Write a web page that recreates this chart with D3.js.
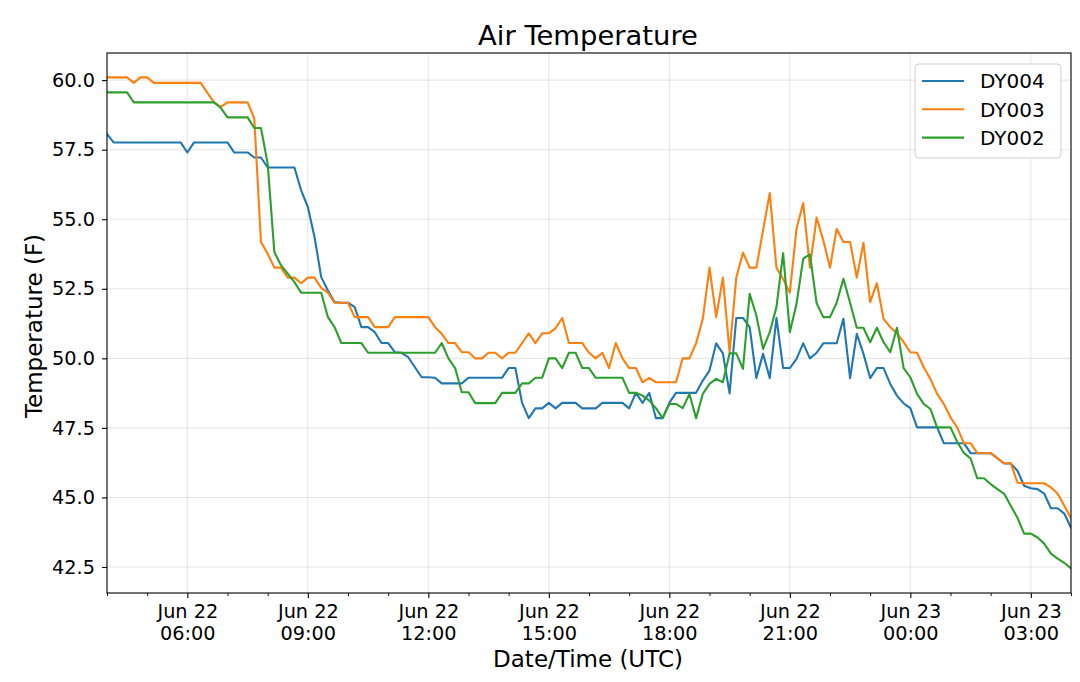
<!DOCTYPE html>
<html><head><meta charset="utf-8">
<script src="https://cdn.jsdelivr.net/npm/d3@7/dist/d3.min.js"></script>
<style>
html,body{margin:0;padding:0;background:#fff;}
text{font-family:"DejaVu Sans",sans-serif;fill:#000;}
</style></head>
<body><svg id="c" width="1080" height="682"></svg>
<script>
// 10-minute readings from 2019-06-22 04:00 UTC to 2019-06-23 04:00 UTC
const startTime = "2019-06-22T04:00:00Z";
const stepMinutes = 10;
const seriesNames = ["DY004", "DY003", "DY002"];
const seriesColors = ["#1f77b4", "#ff7f0e", "#2ca02c"];
const dy004 = [
58.06,57.76,57.76,57.76,57.76,57.76,57.76,57.76,57.76,57.76,
57.76,57.76,57.40,57.76,57.76,57.76,57.76,57.76,57.76,57.40,
57.40,57.40,57.22,57.22,56.86,56.86,56.86,56.86,56.86,56.04,
55.44,54.36,52.92,52.44,52.02,52.00,52.00,51.84,51.12,51.12,
50.94,50.55,50.55,50.22,50.20,50.04,49.68,49.32,49.32,49.30,
49.10,49.10,49.10,49.10,49.30,49.30,49.30,49.30,49.30,49.30,
49.65,49.65,48.40,47.85,48.20,48.20,48.40,48.20,48.40,48.40,
48.40,48.20,48.20,48.20,48.40,48.40,48.40,48.40,48.20,48.76,
48.40,48.76,47.85,47.85,48.40,48.76,48.76,48.76,48.76,49.20,
49.56,50.54,50.18,48.74,51.45,51.45,51.12,49.29,50.16,49.29,
51.45,49.65,49.65,49.98,50.54,50.00,50.20,50.54,50.54,50.54,
51.42,49.29,50.88,50.16,49.29,49.65,49.65,49.08,48.66,48.38,
48.21,47.52,47.52,47.52,47.52,46.95,46.95,46.95,46.95,46.59,
46.59,46.59,46.59,46.41,46.22,46.22,45.96,45.42,45.33,45.30,
45.14,44.61,44.61,44.42,43.91];
const dy003 = [
60.10,60.10,60.10,60.10,59.90,60.10,60.10,59.90,59.90,59.90,
59.90,59.90,59.90,59.90,59.90,59.54,59.20,59.04,59.20,59.20,
59.20,59.20,58.62,54.18,53.76,53.26,53.26,52.90,52.90,52.70,
52.90,52.90,52.53,52.36,52.00,52.00,52.00,51.48,51.48,51.48,
51.12,51.12,51.12,51.48,51.48,51.48,51.48,51.48,51.48,51.12,
50.88,50.55,50.55,50.22,50.22,50.00,50.00,50.20,50.20,50.00,
50.20,50.20,50.55,50.90,50.55,50.90,50.90,51.08,51.45,50.55,
50.55,50.55,50.20,50.00,50.20,49.65,50.55,50.00,49.65,49.65,
49.14,49.30,49.14,49.14,49.14,49.14,50.00,50.00,50.54,51.42,
53.26,51.48,52.90,50.22,52.90,53.80,53.26,53.26,54.60,55.94,
53.26,52.85,52.36,54.66,55.58,53.26,55.06,54.24,53.26,54.66,
54.18,54.18,52.90,54.15,52.02,52.70,51.42,51.12,50.90,50.58,
50.22,50.20,49.68,49.26,48.72,48.36,47.88,47.52,46.95,46.95,
46.59,46.59,46.59,46.41,46.23,46.23,45.53,45.51,45.51,45.51,
45.51,45.36,45.14,44.70,44.25];
const dy002 = [
59.56,59.56,59.56,59.56,59.20,59.20,59.20,59.20,59.20,59.20,
59.20,59.20,59.20,59.20,59.20,59.20,59.20,59.00,58.66,58.66,
58.66,58.66,58.28,58.28,57.00,53.82,53.34,53.04,52.74,52.36,
52.36,52.36,52.36,51.48,51.12,50.55,50.55,50.55,50.55,50.20,
50.20,50.20,50.20,50.20,50.20,50.20,50.20,50.20,50.20,50.20,
50.55,50.00,49.65,48.78,48.78,48.39,48.39,48.39,48.39,48.76,
48.76,48.76,49.10,49.10,49.30,49.30,50.00,50.00,49.65,50.20,
50.20,49.65,49.65,49.30,49.30,49.30,49.30,49.30,48.76,48.76,
48.66,48.48,48.21,47.85,48.36,48.36,48.21,48.72,47.85,48.72,
49.08,49.26,49.14,50.18,50.18,49.62,52.32,51.54,50.34,50.94,
51.84,53.78,50.94,51.96,53.58,53.74,51.98,51.48,51.48,52.00,
52.86,52.00,51.10,51.10,50.58,51.10,50.58,50.22,51.10,49.65,
49.32,48.72,48.36,48.18,47.52,47.52,47.52,47.00,46.60,46.40,
45.69,45.69,45.48,45.30,45.14,44.70,44.27,43.70,43.70,43.56,
43.34,42.98,42.80,42.65,42.45];
const seriesValues = [dy004, dy003, dy002];
const yTicks = [42.5, 45.0, 47.5, 50.0, 52.5, 55.0, 57.5, 60.0];
const titleText = "Air Temperature";
const xLabel = "Date/Time (UTC)";
const yLabel = "Temperature (F)";

const svg = d3.select("#c");
const L = 107, R = 1071, T = 53, B = 593;
const t0 = new Date(startTime);
const t1 = new Date(t0.getTime() + 24*3600*1000);
const x = d3.scaleUtc().domain([t0, t1]).range([L, R]);
const y = d3.scaleLinear().domain([41.565, 60.975]).range([B, T]);
const timeOf = i => new Date(t0.getTime() + i*stepMinutes*60000);

// grid
const majorTimes = d3.utcHour.every(1).range(t0, t1).filter(d => d.getUTCHours() % 3 === 0 && d > t0);
const minorTimes = d3.utcHour.every(1).range(t0, new Date(t1.getTime()+1));
const g = svg.append("g");
g.selectAll(".vg").data(majorTimes).enter().append("line")
  .attr("x1", d=>x(d)).attr("x2", d=>x(d)).attr("y1", T).attr("y2", B)
  .attr("stroke", "#b0b0b0").attr("stroke-opacity", 0.3).attr("stroke-width", 1.1);
g.selectAll(".hg").data(yTicks).enter().append("line")
  .attr("x1", L).attr("x2", R).attr("y1", d=>y(d)).attr("y2", d=>y(d))
  .attr("stroke", "#b0b0b0").attr("stroke-opacity", 0.3).attr("stroke-width", 1.1);

// lines
svg.append("clipPath").attr("id","pc").append("rect")
  .attr("x", L).attr("y", T).attr("width", R-L).attr("height", B-T);
const line = d3.line().x((d,i)=>x(timeOf(i))).y(d=>y(d));
seriesValues.forEach((vals, k) => {
  svg.append("path").attr("d", line(vals)).attr("fill","none")
    .attr("stroke", seriesColors[k]).attr("stroke-width", 2.1)
    .attr("stroke-linejoin","round").attr("stroke-linecap","square")
    .attr("clip-path","url(#pc)");
});

// axes
const fmtD = d3.utcFormat("%b %d"), fmtT = d3.utcFormat("%H:%M");
const xAxis = d3.axisBottom(x).tickValues(majorTimes).tickSize(5).tickFormat("");
const xg = svg.append("g").attr("transform", `translate(0,${B})`).call(xAxis);
xg.select(".domain").remove();
xg.selectAll(".tick line").attr("stroke","#000").attr("stroke-width",1.1);
xg.selectAll(".tick").each(function(d){
  const t = d3.select(this).append("text").attr("text-anchor","middle").style("font-size","19.3px");
  t.append("tspan").attr("x",0).attr("y",25).text(fmtD(d));
  t.append("tspan").attr("x",0).attr("y",47).text(fmtT(d));
});
const xm = d3.axisBottom(x).tickValues(minorTimes.filter(d=>d.getUTCHours()%3!==0)).tickSize(3).tickFormat("");
const xmg = svg.append("g").attr("transform", `translate(0,${B})`).call(xm);
xmg.select(".domain").remove();
xmg.selectAll(".tick line").attr("stroke","#000").attr("stroke-width",0.9);

const yAxis = d3.axisLeft(y).tickValues(yTicks).tickSize(5).tickPadding(7).tickFormat(d3.format(".1f"));
const yg = svg.append("g").attr("transform", `translate(${L},0)`).call(yAxis);
yg.select(".domain").remove();
yg.selectAll(".tick line").attr("stroke","#000").attr("stroke-width",1.1);
yg.selectAll(".tick text").style("font-size","19.3px").attr("fill","#000").attr("font-family","DejaVu Sans");

// frame
svg.append("rect").attr("x",L).attr("y",T).attr("width",R-L).attr("height",B-T)
  .attr("fill","none").attr("stroke","#000").attr("stroke-width",1.1);

// labels
svg.append("text").attr("x",588).attr("y",45).attr("text-anchor","middle")
  .style("font-size","27.4px").text(titleText);
svg.append("text").attr("x",588).attr("y",667).attr("text-anchor","middle")
  .style("font-size","23px").text(xLabel);
svg.append("text").attr("transform",`translate(42,326) rotate(-90)`).attr("text-anchor","middle")
  .style("font-size","23px").text(yLabel);

// legend
const lg = svg.append("g");
lg.append("rect").attr("x",915).attr("y",64).attr("width",146).attr("height",94).attr("rx",4)
  .attr("fill","#fff").attr("fill-opacity",0.8).attr("stroke","#d0d0d0").attr("stroke-width",1);
seriesNames.forEach((n,k)=>{
  const yy = 81 + k*28.3;
  lg.append("line").attr("x1",922).attr("x2",964).attr("y1",yy).attr("y2",yy)
    .attr("stroke",seriesColors[k]).attr("stroke-width",2.1);
  lg.append("text").attr("x",980).attr("y",yy+7.3).style("font-size","20px").text(n);
});
</script></body></html>
